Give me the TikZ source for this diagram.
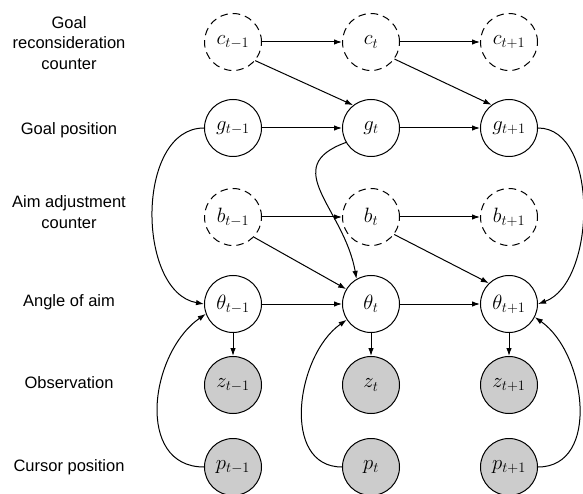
\documentclass[tikz,border=0pt]{standalone}
\usepackage{fontspec}
\newfontfamily\labelfont{Liberation Sans}
\usetikzlibrary{arrows.meta}
\tikzstyle{var}=[circle,draw=black,line width=1pt,minimum size=57pt,inner sep=0pt,font=\fontsize{21.5}{25}\selectfont]
\tikzstyle{countvar}=[var,dash pattern=on 7.5pt off 5pt]
\tikzstyle{obsvar}=[var,fill=black!20]
\tikzstyle{rowlabel}=[align=center,font=\labelfont\fontsize{16.5}{20.5}\selectfont]

\begin{document}
\begin{tikzpicture}[x=1pt,y=1pt,line width=1pt,>={Latex[length=8pt,width=5.5pt]}]
    \useasboundingbox (0,0) rectangle (583,493);
    % row labels
    \node[rowlabel] (lc) at (69,450) {Goal\\reconsideration\\counter};
    \node[rowlabel] (lg) at (69,363) {Goal position};
    \node[rowlabel] (lb) at (69,281) {Aim adjustment\\counter};
    \node[rowlabel] (lt) at (69,191) {Angle of aim};
    \node[rowlabel] (lz) at (69,110) {Observation};
    \node[rowlabel] (lp) at (69,26) {Cursor position};
    % variables
    \node[countvar] (c1) at (233,451) {$c_{t-1}$};
    \node[countvar] (c2) at (371,451) {$c_{t}$};
    \node[countvar] (c3) at (509,451) {$c_{t+1}$};
    \node[var] (g1) at (233,365) {$g_{t-1}$};
    \node[var] (g2) at (371,365) {$g_{t}$};
    \node[var] (g3) at (509,365) {$g_{t+1}$};
    \node[countvar] (b1) at (233,276) {$b_{t-1}$};
    \node[countvar] (b2) at (371,276) {$b_{t}$};
    \node[countvar] (b3) at (509,276) {$b_{t+1}$};
    \node[var] (t1) at (233,189) {$\theta_{t-1}$};
    \node[var] (t2) at (371,189) {$\theta_{t}$};
    \node[var] (t3) at (509,189) {$\theta_{t+1}$};
    \node[obsvar] (z1) at (233,108) {$z_{t-1}$};
    \node[obsvar] (z2) at (371,108) {$z_{t}$};
    \node[obsvar] (z3) at (509,108) {$z_{t+1}$};
    \node[obsvar] (p1) at (233,26) {$p_{t-1}$};
    \node[obsvar] (p2) at (371,26) {$p_{t}$};
    \node[obsvar] (p3) at (509,26) {$p_{t+1}$};
    % transitions
    \draw[->] (c1) -- (c2);
    \draw[->] (c2) -- (c3);
    \draw[->] (g1) -- (g2);
    \draw[->] (g2) -- (g3);
    \draw[->] (b1) -- (b2);
    \draw[->] (b2) -- (b3);
    \draw[->] (t1) -- (t2);
    \draw[->] (t2) -- (t3);
    \draw[->] (c1.-40) -- (g2.128);
    \draw[->] (c2.-36) -- (g3.127);
    \draw[->] (b1.-44) -- (t2.149);
    \draw[->] (b2.-37) -- (t3.134);
    \draw[->] (t1) -- (z1);
    \draw[->] (t2) -- (z2);
    \draw[->] (t3) -- (z3);
    % goal to aim
    \draw[->] (g1.west) to[out=180,in=170] (t1.west);
    \draw[->] (g2.210) to[out=200,in=100,looseness=1.35] (t2.120);
    \draw[->] (g3.east) to[out=0,in=20,looseness=0.9] (t3.east);
    % cursor to aim
    \draw[->] (p1.west) to[out=180,in=215,looseness=1.15] (t1.200);
    \draw[->] (p2.west) to[out=180,in=215,looseness=1.07] (t2.213);
    \draw[->] (p3.east) to[out=0,in=325,looseness=1.07] (t3.-27);
\end{tikzpicture}
\end{document}
